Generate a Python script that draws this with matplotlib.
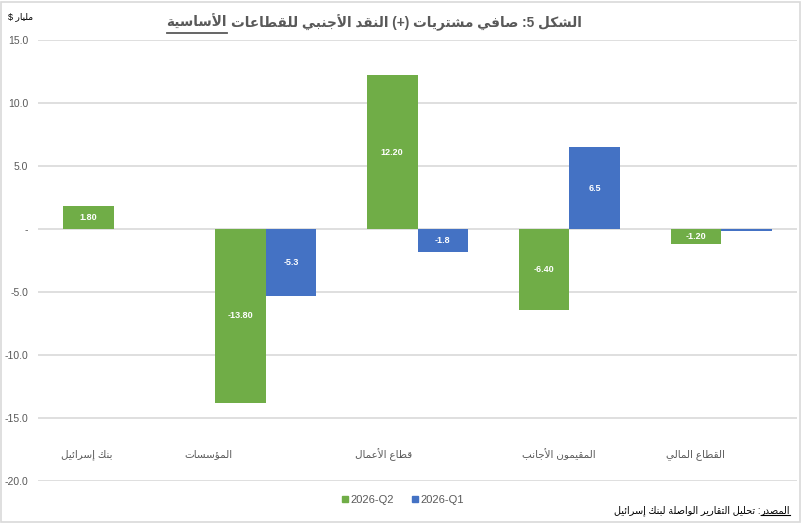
import re
import matplotlib
matplotlib.use("Agg")
import matplotlib.pyplot as plt
from matplotlib.patches import Rectangle
from matplotlib.lines import Line2D
import numpy as np

# ---------------- data ----------------
categories = ["بنك إسرائيل", "المؤسسات", "قطاع الأعمال", "المقيمون الأجانب", "القطاع المالي"]
q2_values = [1.80, -13.80, 12.20, -6.40, -1.20]
q1_values = [0.0, -5.3, -1.8, 6.5, -0.12]
q2_labels = ["1.80", "-13.80", "12.20", "-6.40", "-1.20"]
q1_labels = ["", "-5.3", "-1.8", "6.5", ""]
series_names = ["2026-Q2", "2026-Q1"]
y_ticks = [15, 10, 5, 0, -5, -10, -15, -20]
y_tick_labels = ["15.0", "10.0", "5.0", "-", "-5.0", "-10.0", "-15.0", "-20.0"]
title_main = "الشكل 5: صافي مشتريات (+) النقد الأجنبي للقطاعات"
title_underlined = "الأساسية"
unit_label = "مليار $"
source_head = "المصدر"
source_rest = ": تحليل التقارير الواصلة لبنك إسرائيل"

# ---------------- minimal Arabic shaping + RTL reorder ----------------
AR = {
    'ء': (0xFE80, 0), 'آ': (0xFE81, 1), 'أ': (0xFE83, 1), 'ؤ': (0xFE85, 1), 'إ': (0xFE87, 1),
    'ئ': (0xFE89, 2), 'ا': (0xFE8D, 1), 'ب': (0xFE8F, 2), 'ة': (0xFE93, 1), 'ت': (0xFE95, 2),
    'ث': (0xFE99, 2), 'ج': (0xFE9D, 2), 'ح': (0xFEA1, 2), 'خ': (0xFEA5, 2), 'د': (0xFEA9, 1),
    'ذ': (0xFEAB, 1), 'ر': (0xFEAD, 1), 'ز': (0xFEAF, 1), 'س': (0xFEB1, 2), 'ش': (0xFEB5, 2),
    'ص': (0xFEB9, 2), 'ض': (0xFEBD, 2), 'ط': (0xFEC1, 2), 'ظ': (0xFEC5, 2), 'ع': (0xFEC9, 2),
    'غ': (0xFECD, 2), 'ف': (0xFED1, 2), 'ق': (0xFED5, 2), 'ك': (0xFED9, 2), 'ل': (0xFEDD, 2),
    'م': (0xFEE1, 2), 'ن': (0xFEE5, 2), 'ه': (0xFEE9, 2), 'و': (0xFEED, 1), 'ى': (0xFEEF, 1),
    'ي': (0xFEF1, 2),
}
LAM_ALEF = {'آ': 0xFEF5, 'أ': 0xFEF7, 'إ': 0xFEF9, 'ا': 0xFEFB}
MIRROR = {'(': ')', ')': '(', '[': ']', ']': '['}


def shape(s):
    toks = []
    i = 0
    while i < len(s):
        c = s[i]
        if c == 'ل' and i + 1 < len(s) and s[i + 1] in LAM_ALEF:
            toks.append(('LA', s[i + 1]))
            i += 2
        else:
            toks.append(('C', c))
            i += 1

    def jt(t):
        if t[0] == 'LA':
            return 1
        return AR[t[1]][1] if t[1] in AR else -1

    res = []
    for k, t in enumerate(toks):
        typ = jt(t)
        if typ < 0:
            res.append(t[1])
            continue
        prev_j = k > 0 and jt(toks[k - 1]) == 2
        next_j = typ == 2 and k + 1 < len(toks) and jt(toks[k + 1]) >= 1
        if t[0] == 'LA':
            b = LAM_ALEF[t[1]]
            res.append(chr(b + 1 if prev_j else b))
            continue
        b = AR[t[1]][0]
        if typ == 0:
            res.append(chr(b))
        elif prev_j and next_j:
            res.append(chr(b + 3))
        elif prev_j:
            res.append(chr(b + 1))
        elif next_j:
            res.append(chr(b + 2))
        else:
            res.append(chr(b))
    return ''.join(res)


def rtl(s):
    shaped = shape(s)
    toks = re.findall(r'[0-9A-Za-z.]+|.', shaped)
    return ''.join(MIRROR.get(t, t) for t in reversed(toks))


FAM = ['Liberation Sans', 'DejaVu Sans']
plt.rcParams['font.family'] = FAM

# ---------------- figure ----------------
W, H = 802, 523
fig = plt.figure(figsize=(W / 100, H / 100), dpi=100)
fig.patch.set_facecolor("white")
fig.patches.append(Rectangle((0.001, 0.001), 0.997, 0.996, transform=fig.transFigure,
                             fill=False, edgecolor="#d9d9d9", linewidth=1.2))

ax_left, ax_right = 38 / W, 797 / W
ax_bottom, ax_top = (H - 481) / H, (H - 40) / H
ax = fig.add_axes([ax_left, ax_bottom, ax_right - ax_left, ax_top - ax_bottom])

green = "#70AD47"
blue = "#4472C4"
grey_text = "#595959"

x = np.arange(len(categories))
bw = 1 / 3
b2 = ax.bar(x - bw / 2, q2_values, width=bw, color=green, zorder=3, label=series_names[0])
b1 = ax.bar(x + bw / 2, q1_values, width=bw, color=blue, zorder=3, label=series_names[1])

for bars, labs in ((b2, q2_labels), (b1, q1_labels)):
    for rect, lab in zip(bars, labs):
        if lab:
            ax.text(rect.get_x() + rect.get_width() / 2, rect.get_y() + rect.get_height() / 2, lab,
                    ha="center", va="center", color="white", fontsize=6.5, fontweight="bold",
                    zorder=4)

ax.set_xlim(-0.5, len(categories) - 0.5)
ax.set_ylim(-20, 15)
ax.set_yticks(y_ticks)
ax.set_yticklabels(y_tick_labels)
ax.set_xticks([])
ax.tick_params(axis="y", length=0, pad=7, labelsize=7.5, labelcolor=grey_text)
for s in ax.spines.values():
    s.set_visible(False)
ax.yaxis.grid(True, color="#d9d9d9", linewidth=1.2, zorder=0)
ax.set_axisbelow(True)

# category labels placed inside plot area near bottom
cat_offsets = [-0.18, -0.375, -0.22, -0.07, -0.17]
for i, (c, off) in enumerate(zip(categories, cat_offsets)):
    ax.text(i + off, -17.9, rtl(c), ha="center", va="center", fontsize=7.5, color=grey_text)

# unit label
fig.text(8 / W, 1 - 17 / H, rtl(unit_label), ha="left", va="center", fontsize=6.5, color="black")

# legend
handles = [Line2D([0], [0], marker="s", linestyle="none", markersize=5, markerfacecolor=green,
                  markeredgecolor=green),
           Line2D([0], [0], marker="s", linestyle="none", markersize=5, markerfacecolor=blue,
                  markeredgecolor=blue)]
fig.legend(handles, series_names, loc="center", bbox_to_anchor=(402 / W, 1 - 500 / H),
           ncol=2, frameon=False, fontsize=8, handletextpad=0.1, columnspacing=1.5,
           labelcolor=grey_text, handlelength=0.8)

# title (with underlined last word)
fig.canvas.draw()
renderer = fig.canvas.get_renderer()
inv = fig.transFigure.inverted()

TS = 9.8
t_main = fig.text(582 / W, 1 - 27 / H, rtl(title_main), ha="right", va="baseline",
                  fontsize=TS, fontweight="bold", color=grey_text)
bb = t_main.get_window_extent(renderer)
x_left = inv.transform((bb.x0, bb.y0))[0]
t_ul = fig.text(x_left - 4 / W, 1 - 27 / H, rtl(title_underlined), ha="right", va="baseline",
                fontsize=TS, fontweight="bold", color=grey_text)
bb2 = t_ul.get_window_extent(renderer)
ux0 = inv.transform((bb2.x0, bb2.y0))[0]
ux1 = inv.transform((bb2.x1, bb2.y0))[0]
uy = 1 - 33 / H
fig.add_artist(Line2D([ux0, ux1], [uy, uy], transform=fig.transFigure, color=grey_text,
                      linewidth=1.3))

# source note (with underlined head)
t_src = fig.text(790 / W, 1 - 513 / H, rtl(source_head), ha="right", va="baseline",
                 fontsize=7, color="black")
bb3 = t_src.get_window_extent(renderer)
sx0 = inv.transform((bb3.x0, bb3.y0))[0]
sx1 = inv.transform((bb3.x1, bb3.y0))[0]
sy = 1 - 515 / H
fig.add_artist(Line2D([sx0, sx1], [sy, sy], transform=fig.transFigure, color="black",
                      linewidth=0.8))
fig.text(sx0, 1 - 513 / H, rtl(source_rest), ha="right", va="baseline", fontsize=7,
         color="black")

fig.savefig("out.png", dpi=100)
